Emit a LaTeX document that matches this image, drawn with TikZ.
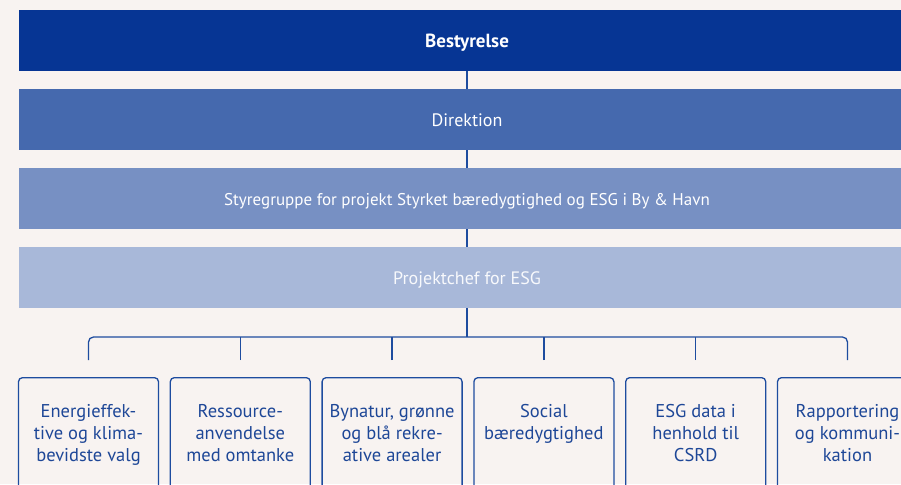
\documentclass[tikz,border=0pt]{standalone}
\usepackage{fontspec}
\setmainfont{PT Sans}
\usetikzlibrary{positioning,calc}
\definecolor{paper}{HTML}{F8F3F1}
\definecolor{board}{HTML}{063594}
\definecolor{mgmt}{HTML}{4569AE}
\definecolor{steer}{HTML}{7790C3}
\definecolor{lead}{HTML}{A8B8D9}
\definecolor{wire}{HTML}{1E4C9F}
\definecolor{areatext}{HTML}{1E4797}

\begin{document}
\begin{tikzpicture}[x=1pt,y=-1pt,font=\fontsize{17}{22}\selectfont,
band/.style={minimum width=896pt,minimum height=61pt,inner sep=0pt,text=white,text height=16pt,text depth=1pt},
area/.style={draw=wire,line width=1.3pt,rounded corners=4pt,minimum width=140pt,minimum height=130pt,anchor=north},
areatxt/.style={text=areatext,align=center,anchor=north,inner sep=0pt,font=\fontsize{18.5}{22.3}\selectfont},
c/.style={wire,line width=1.3pt}]
\fill[paper] (0,0) rectangle (901,484);
\useasboundingbox (0,0) rectangle (901,484);
\clip (0,0) rectangle (901,484);
% management levels
\node[band,fill=board,font=\fontsize{19}{20}\bfseries] (board) at (467,40.5) {Bestyrelse};
\node[band,fill=mgmt,below=17.5pt of board,font=\fontsize{18}{20}\selectfont] (mgmt) {Direktion};
\node[band,fill=steer,below=17.5pt of mgmt] (steer) {Styregruppe for projekt Styrket bæredygtighed og ESG i By \& Havn};
\node[band,fill=lead,below=17.5pt of steer,text=white!92!lead,font=\fontsize{18}{20}\selectfont] (lead) {Projektchef for ESG};
\draw[c] (board) -- (mgmt); \draw[c] (mgmt) -- (steer); \draw[c] (steer) -- (lead);
% focus areas
\foreach \i/\t in {1/{Energieffek-\\tive og klima-\\bevidste valg},2/{Ressource-\\anvendelse\\med omtanke},
  3/{Bynatur, grønne\\og blå rekre-\\ative arealer},4/{Social\\bæredygtighed},
  5/{ESG data i\\henhold til\\CSRD},6/{Rapportering\\og kommuni-\\kation}}{
  \node[area] (a\i) at ({468+(\i-3.5)*151.8},377) {};
  \node[areatxt] (t\i) at ($(a\i.north)+(0,27)$) {\t};
  \coordinate (d\i) at ($(a\i.north)+(0,-17)$);
}
\coordinate (bar) at (467,337);
\draw[c] (lead) -- (bar);
\draw[c,rounded corners=5pt] (d1) |- (bar) -| (d6);
\foreach \i in {2,...,5} \draw[c] (d\i) -- (d\i |- bar);
\end{tikzpicture}
\end{document}
